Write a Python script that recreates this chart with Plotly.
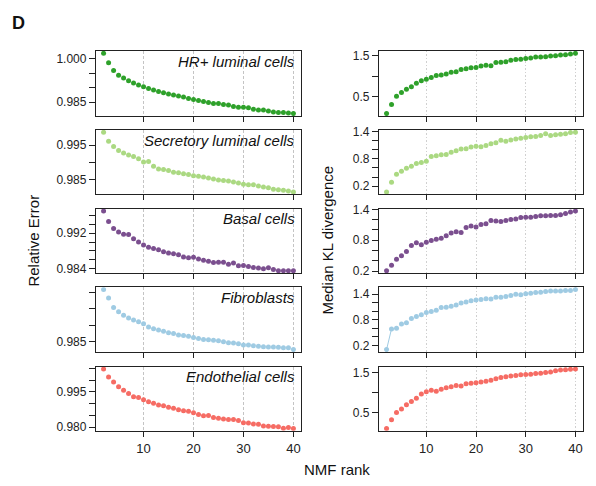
import plotly.graph_objects as go

# NMF ranks 2..40
ranks = list(range(2, 41))

cell_types = ["HR+ luminal cells", "Secretory luminal cells", "Basal cells",
              "Fibroblasts", "Endothelial cells"]
colors = ["#2ea12a", "#abd982", "#7b4f8f", "#9fcbe3", "#f66c64"]

# Relative error (left column)
err_hr = [1.0019, 0.99865, 0.99595, 0.99437, 0.99336, 0.99246, 0.99167, 0.99099, 0.99032, 0.98975,
          0.98919, 0.98874, 0.98829, 0.98784, 0.98750, 0.98716, 0.98683, 0.98626, 0.98592, 0.98559,
          0.98525, 0.98491, 0.98457, 0.98457, 0.98424, 0.98401, 0.98356, 0.98322, 0.98322, 0.98311,
          0.98255, 0.98232, 0.98232, 0.98198, 0.98165, 0.98142, 0.98142, 0.98131, 0.98108]
err_sec = [0.99881, 0.99614, 0.99462, 0.99348, 0.99271, 0.99214, 0.99167, 0.99100, 0.99005, 0.99024,
           0.98881, 0.98805, 0.98786, 0.98757, 0.98710, 0.98690, 0.98662, 0.98643, 0.98605, 0.98586,
           0.98567, 0.98538, 0.98510, 0.98481, 0.98462, 0.98452, 0.98424, 0.98395, 0.98357, 0.98338,
           0.98338, 0.98300, 0.98271, 0.98252, 0.98205, 0.98195, 0.98176, 0.98157, 0.98129]
err_basal = [0.99699, 0.99464, 0.99303, 0.99229, 0.99178, 0.99171, 0.99075, 0.99002, 0.98936, 0.98884,
             0.98855, 0.98826, 0.98782, 0.98752, 0.98738, 0.98716, 0.98664, 0.98650, 0.98657, 0.98620,
             0.98591, 0.98569, 0.98539, 0.98547, 0.98547, 0.98503, 0.98532, 0.98466, 0.98473, 0.98451,
             0.98429, 0.98415, 0.98400, 0.98422, 0.98385, 0.98356, 0.98356, 0.98356, 0.98356]
err_fib = [1.0009, 0.9983, 0.9954, 0.9941, 0.9930, 0.9922, 0.9916, 0.9910, 0.9904, 0.9894,
           0.9889, 0.9885, 0.9881, 0.9877, 0.9874, 0.9870, 0.9868, 0.9866, 0.9862, 0.9859,
           0.9856, 0.9855, 0.9854, 0.9852, 0.9849, 0.9846, 0.9845, 0.9843, 0.9839, 0.9839,
           0.9837, 0.9835, 0.9834, 0.9833, 0.9833, 0.9832, 0.9831, 0.9831, 0.9825]
err_endo = [1.00477, 1.00133, 0.99927, 0.99720, 0.99569, 0.99431, 0.99294, 0.99266, 0.99170, 0.99087,
            0.99018, 0.98950, 0.98908, 0.98853, 0.98812, 0.98743, 0.98702, 0.98674, 0.98619, 0.98537,
            0.98482, 0.98495, 0.98413, 0.98385, 0.98344, 0.98330, 0.98330, 0.98289, 0.98193, 0.98179,
            0.98138, 0.98124, 0.98055, 0.98041, 0.98028, 0.98014, 0.97959, 0.97986, 0.97945]

# Median KL divergence (right column)
kl_hr = [0.092, 0.316, 0.516, 0.604, 0.684, 0.748, 0.836, 0.892, 0.932, 0.972,
         1.020, 1.036, 1.060, 1.100, 1.116, 1.172, 1.188, 1.212, 1.220, 1.252,
         1.276, 1.260, 1.340, 1.348, 1.356, 1.396, 1.412, 1.420, 1.436, 1.452,
         1.476, 1.476, 1.484, 1.500, 1.508, 1.524, 1.532, 1.548, 1.564]
kl_sec = [0.072, 0.285, 0.463, 0.527, 0.591, 0.640, 0.697, 0.718, 0.747, 0.853,
          0.868, 0.889, 0.896, 0.946, 0.981, 1.017, 1.024, 1.059, 1.080, 1.066,
          1.095, 1.130, 1.152, 1.208, 1.187, 1.215, 1.237, 1.251, 1.272, 1.286,
          1.294, 1.315, 1.350, 1.315, 1.329, 1.343, 1.350, 1.379, 1.386]
kl_basal = [0.206, 0.314, 0.427, 0.497, 0.579, 0.699, 0.749, 0.712, 0.762, 0.794,
            0.819, 0.838, 0.888, 0.939, 0.964, 0.950, 1.046, 1.078, 1.059, 1.103,
            1.122, 1.185, 1.173, 1.166, 1.185, 1.204, 1.211, 1.242, 1.248, 1.248,
            1.261, 1.274, 1.274, 1.280, 1.280, 1.293, 1.318, 1.349, 1.368]
kl_fib = [0.100, 0.585, 0.600, 0.700, 0.731, 0.831, 0.877, 0.915, 0.969, 0.992,
          1.023, 1.085, 1.092, 1.115, 1.146, 1.192, 1.215, 1.246, 1.262, 1.277,
          1.292, 1.285, 1.331, 1.331, 1.346, 1.369, 1.400, 1.385, 1.408, 1.423,
          1.438, 1.446, 1.462, 1.477, 1.477, 1.477, 1.485, 1.485, 1.508]
kl_endo = [0.097, 0.315, 0.500, 0.589, 0.694, 0.774, 0.855, 0.960, 1.016, 1.056,
           1.032, 1.081, 1.121, 1.145, 1.177, 1.161, 1.218, 1.234, 1.242, 1.266,
           1.282, 1.306, 1.347, 1.379, 1.395, 1.411, 1.427, 1.444, 1.452, 1.460,
           1.476, 1.484, 1.500, 1.516, 1.548, 1.565, 1.573, 1.581, 1.589]

err_series = [err_hr, err_sec, err_basal, err_fib, err_endo]
kl_series = [kl_hr, kl_sec, kl_basal, kl_fib, kl_endo]

# y tick positions and labels (blank = unlabeled tick)
err_tickvals = [
    [0.985, 0.990, 0.995, 1.000],
    [0.985, 0.990, 0.995],
    [0.984, 0.986, 0.988, 0.990, 0.992, 0.994, 0.996],
    [0.985, 0.990, 0.995, 1.000],
    [0.980, 0.985, 0.990, 0.995, 1.000, 1.005],
]
err_ticktext = [
    ["0.985", "", "", "1.000"],
    ["0.985", "", "0.995"],
    ["0.984", "", "", "", "0.992", "", ""],
    ["0.985", "", "", ""],
    ["0.980", "", "", "0.995", "", ""],
]
kl_tickvals = [
    [0.5, 1.0, 1.5],
    [0.2, 0.4, 0.6, 0.8, 1.0, 1.2, 1.4],
    [0.2, 0.4, 0.6, 0.8, 1.0, 1.2, 1.4],
    [0.2, 0.4, 0.6, 0.8, 1.0, 1.2, 1.4],
    [0.5, 1.0, 1.5],
]
kl_ticktext = [
    ["0.5", "", "1.5"],
    ["0.2", "", "", "0.8", "", "", "1.4"],
    ["0.2", "", "", "0.8", "", "", "1.4"],
    ["0.2", "", "", "0.8", "", "", "1.4"],
    ["0.5", "", "1.5"],
]
x_ticks = [10, 20, 30, 40]

W, H = 596, 486
col_px = [(96, 301), (379, 583)]
row_px = [(46, 112.5), (126.7, 192.7), (207.3, 273.3), (287.7, 354), (369, 434.7)]
FONT = "Liberation Sans, Arial, Helvetica, sans-serif"


def pad_range(vals, frac=0.04):
    lo, hi = min(vals), max(vals)
    d = (hi - lo) * frac
    return [lo - d, hi + d]


fig = go.Figure()
layout = {}
annotations = []

for r in range(5):
    for c in range(2):
        idx = r * 2 + c + 1
        sfx = "" if idx == 1 else str(idx)
        ys = err_series[r] if c == 0 else kl_series[r]
        fig.add_trace(go.Scatter(
            x=ranks, y=ys, mode="markers", xaxis="x" + sfx, yaxis="y" + sfx,
            marker=dict(size=5, color=colors[r]), showlegend=False,
            hoverinfo="x+y"))
        if c == 1 and r == 3:
            # R type="b" segment visible only across the big first jump
            fig.add_trace(go.Scatter(
                x=ranks[:2], y=ys[:2], mode="lines", xaxis="x" + sfx, yaxis="y" + sfx,
                line=dict(color=colors[r], width=1), showlegend=False, hoverinfo="skip"))

        x0, x1 = col_px[c]
        t, b = row_px[r]
        bottom = r == 4
        layout["xaxis" + sfx] = dict(
            domain=[x0 / W, x1 / W], anchor="y" + sfx, range=[0.48, 41.52],
            tickvals=x_ticks, ticktext=[str(v) for v in x_ticks] if bottom else [""] * 4,
            ticks="outside", ticklen=5, tickwidth=1.2, tickcolor="#222",
            showline=True, linecolor="#222", linewidth=1.3, mirror=True,
            showgrid=True, gridcolor="#c4c4c4" if c == 0 else "#d0d0d0",
            griddash="3px,2px" if c == 0 else "1.5px,2px", gridwidth=1,
            zeroline=False, tickfont=dict(size=13, color="#222", family=FONT))
        tv = err_tickvals[r] if c == 0 else kl_tickvals[r]
        tt = err_ticktext[r] if c == 0 else kl_ticktext[r]
        layout["yaxis" + sfx] = dict(
            domain=[1 - b / H, 1 - t / H], anchor="x" + sfx, range=pad_range(ys),
            tickvals=tv, ticktext=tt, ticks="outside", ticklen=6, tickwidth=1.2,
            tickcolor="#222", showline=True, linecolor="#222", linewidth=1.3,
            mirror=True, showgrid=False, zeroline=False,
            tickfont=dict(size=12, color="#222", family=FONT))
        if c == 0:
            annotations.append(dict(
                text="<i>" + cell_types[r] + "</i>", xref="paper", yref="paper",
                x=(x1 - 4) / W, y=1 - (t + 10.5) / H, xanchor="right", yanchor="middle",
                showarrow=False, font=dict(size=15, color="#111", family=FONT)))

annotations += [
    dict(text="<b>D</b>", xref="paper", yref="paper", x=18.5 / W, y=1 - 17 / H,
         xanchor="center", yanchor="middle", showarrow=False,
         font=dict(size=18, color="#111", family=FONT)),
    dict(text="Relative Error", xref="paper", yref="paper", x=34 / W, y=1 - 240 / H,
         textangle=-90, xanchor="center", yanchor="middle", showarrow=False,
         font=dict(size=15, color="#111", family=FONT)),
    dict(text="Median KL divergence", xref="paper", yref="paper", x=328 / W, y=1 - 240 / H,
         textangle=-90, xanchor="center", yanchor="middle", showarrow=False,
         font=dict(size=15, color="#111", family=FONT)),
    dict(text="NMF rank", xref="paper", yref="paper", x=337 / W, y=1 - 474 / H,
         xanchor="center", yanchor="middle", showarrow=False,
         font=dict(size=15, color="#111", family=FONT)),
]

fig.update_layout(
    width=W, height=H, margin=dict(l=0, r=0, t=0, b=0),
    paper_bgcolor="white", plot_bgcolor="white",
    annotations=annotations, **layout)

fig.write_html("out.html", config={"displayModeBar": False},
               post_script="document.body.style.margin='0';")
